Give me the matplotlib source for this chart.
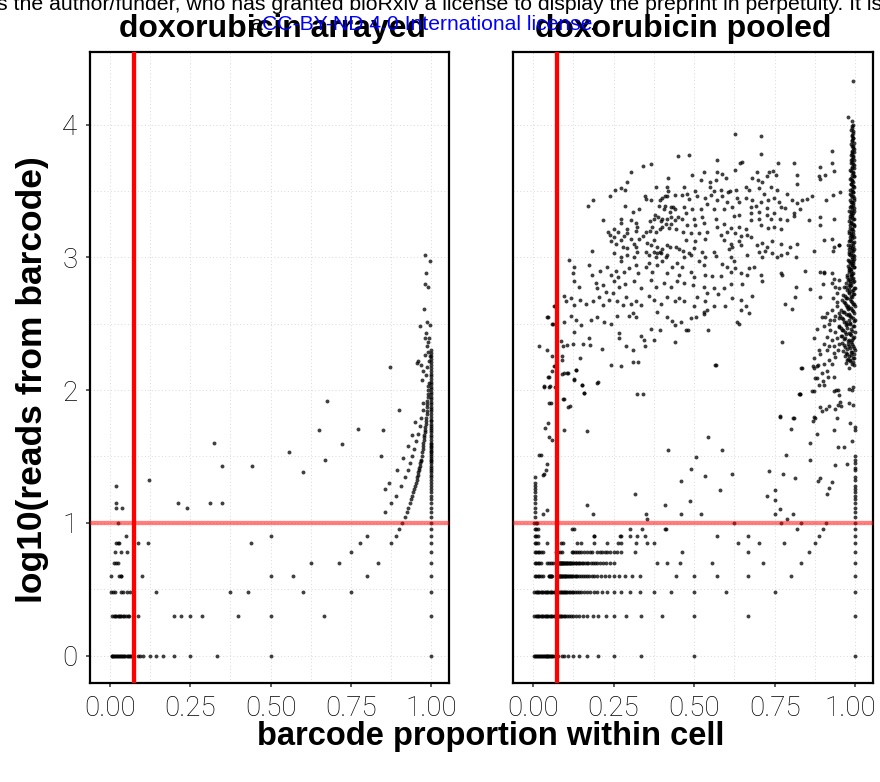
"""
doxorubicin: barcode proportion vs log10 reads, arrayed vs pooled
"""

import numpy as np
import matplotlib
matplotlib.use("Agg")
import matplotlib.pyplot as plt
from matplotlib.transforms import ScaledTranslation

# ---------------- data ----------------
# arrayed: proportion values for cells at a given read count (1..10 reads)
arr_r1 = [0.005, 0.008, 0.011, 0.014, 0.017, 0.02, 0.023, 0.026, 0.029, 0.032, 0.035, 0.038,
          0.041, 0.044, 0.048, 0.052, 0.056, 0.06, 0.064, 0.067, 0.088, 0.093, 0.104, 0.124,
          0.143, 0.166, 0.2, 0.249, 0.333, 0.5, 1.0]
arr_r2 = [0.008, 0.012, 0.016, 0.02, 0.024, 0.028, 0.032, 0.036, 0.04, 0.045, 0.05, 0.055,
          0.06, 0.088, 0.2, 0.222, 0.25, 0.286, 0.4, 0.5, 0.667, 1.0]
arr_r3 = [0.003, 0.01, 0.016, 0.036, 0.041, 0.052, 0.062, 0.143, 0.375, 0.429, 0.6, 0.75, 1.0]
arr_r4 = [0.003, 0.029, 0.033, 0.036, 0.1, 0.5, 0.571, 0.8, 1.0]
arr_r5 = [0.013, 0.019, 0.024, 0.625, 0.714, 0.833, 1.0]
arr_r6 = [0.016, 0.036, 0.052, 0.75, 1.0]
arr_r7 = [0.018, 0.024, 0.029, 0.088, 0.117, 0.438, 0.778, 0.875, 1.0]
arr_r8 = [0.049, 0.5, 0.8, 0.889, 1.0]
arr_r9 = [0.9, 1.0]
arr_r10 = [0.024, 0.909, 1.0]

# arrayed: read counts of barcodes with 0 / 1 / 2 / 3 other reads in the cell (>10 reads)
arr_single_reads = [11, 12, 13, 14, 15, 16, 17, 18, 19, 20, 21, 22, 23, 24, 25, 26, 27, 28, 29,
                    30, 31, 32, 33, 34, 35, 36, 37, 38, 39, 40, 42, 44, 46, 48, 50, 52, 54, 56,
                    58, 60, 63, 66, 69, 72, 75, 78, 81, 85, 89, 93, 97, 101, 106, 111, 116, 121,
                    127, 133, 140, 147, 155, 163, 172, 181, 190, 200]
arr_k1_reads = [11, 12, 13, 14, 15, 16, 17, 18, 19, 20, 21, 22, 23, 24, 25, 26, 27, 28, 29, 30,
                32, 34, 36, 38, 40, 42, 44, 46, 48, 50, 53, 56, 59, 62, 66, 70, 74, 78, 83, 88,
                94, 100, 107, 114]
arr_k2_reads = [12, 14, 16, 19, 22, 25, 28, 32, 36, 41, 47, 54, 62, 71, 80]
arr_k3_reads = [18, 20, 25, 31, 38, 46, 57]

# arrayed: other points (proportion, reads)
arr_misc = [(0.018, 13), (0.039, 13), (0.018, 14), (0.018, 19), (0.123, 21), (0.212, 14),
            (0.24, 13), (0.311, 14), (0.35, 14), (0.324, 40), (0.35, 27), (0.443, 27),
            (0.558, 34), (0.6, 24), (0.65, 50), (0.67, 30), (0.675, 83), (0.723, 39),
            (0.773, 51), (0.843, 32), (0.851, 50), (0.871, 149), (0.9, 71), (0.955, 160),
            (0.958, 165), (0.98, 1040), (0.995, 935), (0.983, 760), (0.98, 630), (0.99, 600),
            (0.978, 408), (0.965, 305), (0.985, 327), (0.996, 310), (0.984, 270), (0.979, 245),
            (0.994, 248), (0.968, 155), (0.98, 185), (0.99, 195), (0.995, 180), (0.985, 215),
            (0.99, 230), (0.975, 140), (0.983, 130), (0.97, 120), (0.988, 150), (0.993, 165)]

# pooled: proportion values for cells at a given read count (1..10 reads)
pool_r1 = [0.003, 0.006, 0.009, 0.012, 0.015, 0.018, 0.021, 0.024, 0.027, 0.03, 0.033, 0.036,
           0.039, 0.042, 0.045, 0.048, 0.05, 0.053, 0.056, 0.059, 0.063, 0.067, 0.071, 0.077,
           0.089, 0.097, 0.109, 0.123, 0.143, 0.169, 0.202, 0.252, 0.334, 0.5, 1.0]
pool_r2 = [0.004, 0.008, 0.012, 0.016, 0.02, 0.024, 0.028, 0.032, 0.036, 0.04, 0.044, 0.048,
           0.052, 0.056, 0.06, 0.064, 0.068, 0.072, 0.077, 0.08, 0.083, 0.087, 0.091, 0.095,
           0.1, 0.105, 0.111, 0.118, 0.125, 0.133, 0.143, 0.154, 0.167, 0.185, 0.202, 0.226,
           0.252, 0.288, 0.336, 0.401, 0.5, 0.668, 1.0]
pool_r3 = [0.004, 0.008, 0.012, 0.016, 0.02, 0.024, 0.028, 0.032, 0.036, 0.04, 0.044, 0.048,
           0.052, 0.056, 0.06, 0.064, 0.068, 0.072, 0.076, 0.08, 0.083, 0.086, 0.09, 0.094,
           0.097, 0.1, 0.103, 0.107, 0.111, 0.115, 0.12, 0.125, 0.13, 0.136, 0.143, 0.15,
           0.158, 0.167, 0.176, 0.188, 0.2, 0.214, 0.231, 0.25, 0.273, 0.3, 0.333, 0.375,
           0.429, 0.5, 0.6, 0.75, 1.0]
pool_r4 = [0.005, 0.01, 0.015, 0.02, 0.025, 0.03, 0.049, 0.051, 0.053, 0.055, 0.057, 0.06,
           0.08, 0.082, 0.083, 0.085, 0.087, 0.089, 0.091, 0.093, 0.095, 0.098, 0.1, 0.103,
           0.105, 0.108, 0.111, 0.114, 0.118, 0.121, 0.125, 0.129, 0.133, 0.138, 0.143, 0.148,
           0.154, 0.16, 0.167, 0.174, 0.182, 0.19, 0.2, 0.21, 0.222, 0.235, 0.25, 0.267, 0.286,
           0.308, 0.333, 0.444, 0.5, 0.571, 0.667, 0.8, 1.0]
pool_r5 = [0.005, 0.01, 0.015, 0.02, 0.025, 0.045, 0.05, 0.056, 0.063, 0.071, 0.08, 0.082,
           0.083, 0.085, 0.086, 0.088, 0.089, 0.091, 0.093, 0.094, 0.096, 0.098, 0.1, 0.102,
           0.104, 0.106, 0.109, 0.111, 0.114, 0.116, 0.119, 0.122, 0.125, 0.128, 0.132, 0.135,
           0.139, 0.143, 0.147, 0.152, 0.156, 0.161, 0.167, 0.172, 0.179, 0.185, 0.192, 0.2,
           0.208, 0.217, 0.227, 0.238, 0.25, 0.385, 0.417, 0.455, 0.556, 0.714, 0.833, 1.0]
pool_r6 = [0.005, 0.01, 0.015, 0.02, 0.025, 0.03, 0.071, 0.077, 0.083, 0.09, 0.12, 0.125,
           0.13, 0.136, 0.143, 0.15, 0.158, 0.167, 0.176, 0.182, 0.2, 0.207, 0.214, 0.222,
           0.231, 0.24, 0.25, 0.261, 0.273, 0.316, 0.462, 0.667, 0.857, 1.0]
pool_r7 = [0.005, 0.01, 0.015, 0.044, 0.087, 0.094, 0.136, 0.149, 0.19, 0.231, 0.264, 0.272,
           0.319, 0.353, 0.374, 0.636, 0.7, 0.778, 0.875, 1.0]
pool_r8 = [0.005, 0.01, 0.015, 0.188, 0.19, 0.269, 0.272, 0.301, 0.322, 0.348, 0.571, 0.667,
           0.889, 1.0]
pool_r9 = [0.005, 0.01, 0.015, 0.121, 0.127, 0.301, 0.339, 0.41, 0.414, 0.818, 0.9, 1.0]
pool_r10 = [0.004, 0.008, 0.012, 0.625, 0.769, 0.833, 0.909, 1.0]

# pooled: reads of cells near proportion 0 and at proportion 1 (>10 reads)
pool_low_reads = [11, 12, 13, 14, 15, 16, 17, 18, 19, 20, 22]
pool_single_reads = [11, 12, 13, 14, 15, 16, 17, 18, 19, 21, 22, 25, 26, 28, 30, 32, 50, 53]

# pooled: scattered points between 1 and 2.2 (proportion, log10 reads)
pool_mid = [(0.031, 1.07), (0.042, 1.1), (0.167, 1.135), (0.187, 1.067), (0.032, 1.36),
            (0.035, 1.37), (0.039, 1.4), (0.045, 1.44), (0.019, 1.51), (0.024, 1.51),
            (0.036, 1.715), (0.048, 1.755), (0.05, 1.65), (0.059, 1.625), (0.096, 1.7),
            (0.167, 1.69), (0.051, 1.9), (0.035, 2.025), (0.049, 2.02), (0.094, 1.93),
            (0.11, 1.87), (0.047, 2.1), (0.06, 2.14), (0.067, 2.18), (0.089, 2.12),
            (0.108, 2.13), (0.132, 2.15), (0.127, 2.076), (0.151, 2.04), (0.157, 1.98),
            (0.2, 2.05), (0.317, 1.22), (0.242, 2.19), (0.311, 2.21), (0.322, 1.97),
            (0.35, 1.07), (0.355, 1.03), (0.418, 1.55), (0.41, 1.137), (0.458, 1.315),
            (0.46, 1.07), (0.491, 1.406), (0.486, 1.167), (0.507, 1.496), (0.52, 1.07),
            (0.535, 1.353), (0.543, 1.644), (0.565, 2.19), (0.581, 1.248), (0.588, 1.55),
            (0.616, 1.37), (0.727, 1.2), (0.732, 1.39), (0.75, 1.25), (0.75, 1.17),
            (0.766, 1.107), (0.75, 1.07), (0.766, 1.805), (0.775, 1.37), (0.786, 1.51),
            (0.801, 1.705), (0.808, 1.79), (0.814, 1.336), (0.808, 1.067), (0.787, 1.03),
            (0.827, 1.97), (0.832, 2.17), (0.858, 1.6), (0.861, 1.47), (0.865, 1.99),
            (0.868, 1.77), (0.871, 1.795), (0.875, 2.09), (0.872, 2.17), (0.868, 2.18),
            (0.88, 1.67), (0.884, 2.19), (0.887, 2.04), (0.9, 2.07), (0.915, 2.1),
            (0.897, 2.13), (0.884, 1.315), (0.891, 1.336), (0.913, 1.22), (0.92, 1.26),
            (0.927, 1.31), (0.89, 1.87), (0.896, 1.84), (0.91, 1.86), (0.934, 1.7),
            (0.937, 1.436), (0.946, 1.57), (0.943, 1.79), (0.927, 2.2), (0.934, 1.99),
            (0.94, 2.0), (0.945, 2.0), (0.95, 1.96), (0.945, 1.89), (0.955, 1.88),
            (0.953, 1.91), (0.982, 2.01), (0.99, 2.0), (0.994, 2.02), (0.982, 1.9),
            (0.993, 1.89), (0.965, 1.57), (0.975, 1.44), (0.99, 1.62), (0.985, 1.75)]

# pooled: diffuse cloud of high-read cells (proportion, log10 reads)
pool_cloud = [
    (0.451, 3.76), (0.367, 3.7), (0.34, 3.69), (0.305, 3.64), (0.291, 3.57), (0.42, 3.6),
    (0.272, 3.52), (0.285, 3.51), (0.254, 3.51), (0.239, 3.46), (0.383, 3.53), (0.417, 3.53),
    (0.42, 3.5), (0.441, 3.47), (0.348, 3.46), (0.35, 3.44), (0.365, 3.43), (0.393, 3.43),
    (0.399, 3.45), (0.409, 3.46), (0.417, 3.46), (0.391, 3.39), (0.409, 3.39), (0.429, 3.38),
    (0.435, 3.38), (0.44, 3.36), (0.187, 3.43), (0.171, 3.39), (0.286, 3.39), (0.329, 3.36),
    (0.309, 3.34), (0.407, 3.36), (0.425, 3.34), (0.379, 3.32), (0.388, 3.3), (0.401, 3.29),
    (0.417, 3.29), (0.427, 3.3), (0.44, 3.28), (0.45, 3.3), (0.272, 3.29), (0.303, 3.28),
    (0.319, 3.26), (0.322, 3.23), (0.363, 3.27), (0.376, 3.29), (0.396, 3.27), (0.412, 3.25),
    (0.427, 3.25), (0.218, 3.28), (0.234, 3.19), (0.25, 3.21), (0.264, 3.19), (0.272, 3.26),
    (0.293, 3.21), (0.319, 3.2), (0.329, 3.14), (0.352, 3.19), (0.363, 3.2), (0.37, 3.23),
    (0.381, 3.19), (0.394, 3.21), (0.401, 3.23), (0.422, 3.22), (0.443, 3.21), (0.239, 3.17),
    (0.252, 3.15), (0.272, 3.13), (0.283, 3.16), (0.293, 3.18), (0.305, 3.14), (0.314, 3.1),
    (0.34, 3.16), (0.353, 3.11), (0.365, 3.09), (0.376, 3.13), (0.386, 3.08), (0.394, 3.04),
    (0.401, 3.06), (0.417, 3.09), (0.425, 3.08), (0.443, 3.08), (0.453, 3.06), (0.241, 3.12),
    (0.257, 3.1), (0.278, 3.08), (0.293, 3.07), (0.319, 3.08), (0.324, 3.04), (0.35, 3.04),
    (0.374, 3.04), (0.386, 3.03), (0.396, 3.03), (0.417, 3.02), (0.182, 3.05), (0.252, 3.03),
    (0.272, 3.0), (0.291, 3.02), (0.314, 3.0), (0.36, 3.02), (0.381, 3.0), (0.412, 3.0),
    (0.112, 2.98),
    (0.626, 3.93), (0.709, 3.91), (0.706, 3.78), (0.928, 3.8), (0.484, 3.77), (0.572, 3.73),
    (0.647, 3.72), (0.642, 3.71), (0.759, 3.71), (0.81, 3.71), (0.626, 3.66), (0.89, 3.68),
    (0.928, 3.71), (0.935, 3.65), (0.494, 3.62), (0.532, 3.64), (0.572, 3.64), (0.587, 3.63),
    (0.6, 3.6), (0.694, 3.64), (0.68, 3.6), (0.732, 3.64), (0.745, 3.65), (0.754, 3.62),
    (0.82, 3.62), (0.886, 3.61), (0.892, 3.59), (0.907, 3.62), (0.52, 3.58), (0.549, 3.57),
    (0.569, 3.58), (0.698, 3.58), (0.711, 3.57), (0.727, 3.61), (0.47, 3.53), (0.504, 3.5),
    (0.477, 3.48), (0.549, 3.53), (0.561, 3.5), (0.582, 3.51), (0.606, 3.49), (0.61, 3.5),
    (0.63, 3.51), (0.662, 3.53), (0.67, 3.51), (0.701, 3.52), (0.716, 3.48), (0.737, 3.53),
    (0.757, 3.51), (0.818, 3.55), (0.463, 3.47), (0.484, 3.44), (0.51, 3.46), (0.535, 3.45),
    (0.551, 3.47), (0.572, 3.43), (0.587, 3.46), (0.603, 3.42), (0.634, 3.45), (0.639, 3.42),
    (0.618, 3.38), (0.66, 3.45), (0.68, 3.43), (0.691, 3.39), (0.706, 3.42), (0.728, 3.43),
    (0.747, 3.45), (0.762, 3.42), (0.768, 3.38), (0.789, 3.48), (0.804, 3.43), (0.82, 3.41),
    (0.835, 3.43), (0.851, 3.44), (0.866, 3.46), (0.908, 3.43), (0.931, 3.47), (0.469, 3.38),
    (0.494, 3.36), (0.52, 3.36), (0.541, 3.4), (0.561, 3.36), (0.592, 3.36), (0.675, 3.38),
    (0.677, 3.33), (0.701, 3.34), (0.727, 3.37), (0.747, 3.33), (0.783, 3.37), (0.809, 3.33),
    (0.83, 3.36), (0.463, 3.29), (0.474, 3.33), (0.5, 3.29), (0.525, 3.3), (0.567, 3.29),
    (0.623, 3.31), (0.639, 3.32), (0.675, 3.28), (0.701, 3.29), (0.725, 3.32), (0.737, 3.29),
    (0.766, 3.29), (0.787, 3.28), (0.809, 3.31), (0.855, 3.28), (0.89, 3.3), (0.892, 3.24),
    (0.933, 3.29), (0.479, 3.24), (0.504, 3.24), (0.53, 3.26), (0.572, 3.23), (0.592, 3.25),
    (0.613, 3.22), (0.639, 3.23), (0.66, 3.21), (0.706, 3.24), (0.728, 3.22), (0.747, 3.23),
    (0.768, 3.21), (0.467, 3.19), (0.489, 3.18), (0.515, 3.18), (0.541, 3.19), (0.582, 3.17),
    (0.603, 3.19), (0.628, 3.18), (0.644, 3.16), (0.665, 3.17), (0.675, 3.15), (0.474, 3.13),
    (0.504, 3.12), (0.535, 3.14), (0.592, 3.13), (0.613, 3.1), (0.639, 3.12), (0.696, 3.09),
    (0.711, 3.11), (0.727, 3.08), (0.742, 3.12), (0.768, 3.1), (0.799, 3.08), (0.82, 3.1),
    (0.467, 3.05), (0.484, 3.03), (0.5, 3.07), (0.525, 3.04), (0.561, 3.04), (0.608, 3.06),
    (0.618, 3.08), (0.644, 3.09), (0.701, 3.04), (0.721, 3.05), (0.742, 3.03), (0.768, 3.02),
    (0.789, 3.03), (0.469, 3.0), (0.489, 3.02), (0.535, 3.0), (0.567, 3.01), (0.613, 3.0),
    (0.665, 3.02), (0.711, 3.0), (0.757, 3.0), (0.815, 3.0), (0.871, 3.05), (0.933, 3.08),
    (0.948, 3.09),
    (0.123, 2.88), (0.128, 2.93), (0.174, 2.94), (0.182, 2.87), (0.208, 2.9), (0.229, 2.93),
    (0.241, 2.87), (0.257, 2.9), (0.264, 2.85), (0.272, 2.97), (0.283, 2.89), (0.298, 2.92),
    (0.319, 2.94), (0.326, 2.88), (0.35, 2.93), (0.36, 2.96), (0.37, 2.89), (0.386, 2.94),
    (0.401, 2.97), (0.417, 2.88), (0.432, 2.93), (0.448, 2.96), (0.453, 2.87),
    (0.128, 2.82), (0.143, 2.78), (0.195, 2.81), (0.2, 2.77), (0.216, 2.79), (0.226, 2.74),
    (0.252, 2.82), (0.267, 2.78), (0.285, 2.8), (0.314, 2.82), (0.334, 2.77), (0.365, 2.83),
    (0.381, 2.78), (0.407, 2.81), (0.427, 2.78), (0.448, 2.82),
    (0.066, 2.63), (0.095, 2.71), (0.102, 2.67), (0.118, 2.69), (0.128, 2.64), (0.147, 2.68),
    (0.164, 2.65), (0.185, 2.67), (0.205, 2.7), (0.216, 2.64), (0.236, 2.68), (0.247, 2.73),
    (0.262, 2.67), (0.278, 2.64), (0.288, 2.7), (0.303, 2.65), (0.319, 2.67), (0.334, 2.64),
    (0.36, 2.71), (0.376, 2.68), (0.396, 2.65), (0.417, 2.7), (0.44, 2.67), (0.453, 2.69),
    (0.045, 2.55), (0.061, 2.5), (0.095, 2.51), (0.118, 2.56), (0.133, 2.53), (0.149, 2.49),
    (0.18, 2.53), (0.2, 2.55), (0.221, 2.51), (0.241, 2.5), (0.262, 2.56), (0.298, 2.56),
    (0.319, 2.55), (0.309, 2.58), (0.386, 2.59), (0.417, 2.55), (0.432, 2.52), (0.44, 2.49),
    (0.087, 2.37), (0.092, 2.33), (0.107, 2.34), (0.123, 2.35), (0.128, 2.44), (0.154, 2.35),
    (0.174, 2.39), (0.177, 2.34), (0.213, 2.31), (0.267, 2.43), (0.267, 2.39), (0.288, 2.33),
    (0.309, 2.3), (0.334, 2.41), (0.344, 2.38), (0.347, 2.33), (0.376, 2.38), (0.365, 2.46),
    (0.394, 2.45), (0.44, 2.36),
    (0.019, 2.33), (0.043, 2.3), (0.059, 2.26), (0.066, 2.18), (0.05, 2.1), (0.033, 2.03),
    (0.054, 2.03), (0.069, 2.02), (0.056, 1.9), (0.089, 2.26), (0.089, 2.23), (0.095, 2.13),
    (0.107, 2.13), (0.133, 2.15), (0.128, 2.08), (0.147, 2.24), (0.152, 2.04), (0.159, 1.98),
    (0.202, 2.06), (0.272, 2.18), (0.326, 2.21), (0.34, 1.97), (0.097, 1.93), (0.114, 1.88),
    (0.047, 2.55), (0.059, 2.5), (0.067, 2.63),
    (0.463, 2.93), (0.489, 2.89), (0.5, 2.85), (0.515, 2.97), (0.53, 2.94), (0.535, 2.87),
    (0.556, 2.86), (0.582, 2.86), (0.587, 2.95), (0.603, 2.93), (0.613, 2.89), (0.623, 2.97),
    (0.628, 2.92), (0.644, 2.88), (0.665, 2.87), (0.67, 2.92), (0.685, 2.93), (0.706, 2.87),
    (0.711, 2.82), (0.469, 2.81), (0.497, 2.79), (0.53, 2.78), (0.541, 2.73), (0.561, 2.77),
    (0.574, 2.72), (0.592, 2.77), (0.613, 2.8), (0.649, 2.8), (0.68, 2.71), (0.768, 2.88),
    (0.773, 2.87), (0.845, 2.9), (0.892, 2.89), (0.902, 2.88), (0.469, 2.67), (0.5, 2.63),
    (0.508, 2.7), (0.535, 2.67), (0.541, 2.6), (0.561, 2.63), (0.597, 2.63), (0.618, 2.69),
    (0.644, 2.68), (0.644, 2.6), (0.662, 2.63), (0.67, 2.58), (0.46, 2.51), (0.489, 2.54),
    (0.505, 2.55), (0.53, 2.57), (0.532, 2.59), (0.634, 2.51), (0.639, 2.5), (0.474, 2.45),
    (0.481, 2.45), (0.544, 2.45), (0.817, 2.78), (0.814, 2.7), (0.783, 2.65), (0.804, 2.61),
    (0.861, 2.76), (0.9, 2.8), (0.567, 2.19), (0.773, 2.36), (0.835, 2.17), (0.827, 1.97),
    (0.881, 2.46), (0.871, 2.39), (0.886, 2.3), (0.892, 2.27), (0.912, 2.3), (0.933, 2.28),
    (0.871, 2.24), (0.881, 2.18), (0.902, 2.2), (0.918, 2.23), (0.938, 2.25), (0.912, 2.14),
    (0.881, 2.09), (0.933, 2.1), (0.904, 2.04), (0.871, 1.99), (0.917, 1.88), (0.936, 1.86),
    (0.876, 1.79), (0.809, 1.79), (0.766, 1.8), (0.825, 1.97),
    (0.897, 2.55), (0.912, 2.58), (0.928, 2.6), (0.943, 2.63), (0.918, 2.5), (0.933, 2.53),
    (0.948, 2.54), (0.902, 2.48), (0.923, 2.45), (0.938, 2.44), (0.951, 2.48), (0.912, 2.4),
    (0.928, 2.38), (0.943, 2.39), (0.951, 2.35), (0.902, 2.35), (0.918, 2.33), (0.935, 2.33),
    (0.945, 2.3), (0.923, 2.53), (0.938, 2.56), (0.951, 2.58), (0.943, 2.73), (0.948, 2.83),
    (0.938, 2.78), (0.931, 2.69), (0.943, 2.66), (0.951, 2.77), (0.935, 2.84), (0.928, 2.88),
    (0.954, 3.49), (0.902, 3.13), (0.928, 3.14), (0.948, 3.09), (0.931, 3.05), (0.902, 2.89),
    (0.928, 2.81), (0.892, 2.7), (0.907, 2.55)]

# pooled: dense spike of high-read single-barcode cells near proportion 1
pool_spike = [
    (0.993, 4.33), (0.976, 4.06), (0.99, 4.03), (0.993, 4.0), (0.99, 3.97), (0.994, 3.95),
    (0.99, 3.92), (0.993, 3.9), (0.991, 3.88), (0.995, 3.86), (0.989, 3.84), (0.993, 3.82),
    (0.99, 3.8), (0.996, 3.79), (0.988, 3.77), (0.993, 3.76), (0.99, 3.74), (0.996, 3.73),
    (0.986, 3.71), (0.992, 3.7), (0.989, 3.68), (0.995, 3.67), (0.987, 3.65), (0.993, 3.64),
    (0.99, 3.62), (0.996, 3.61), (0.985, 3.59), (0.991, 3.58), (0.994, 3.57), (0.988, 3.55),
    (0.992, 3.54), (0.997, 3.53), (0.984, 3.51), (0.99, 3.5), (0.994, 3.49), (0.987, 3.47),
    (0.992, 3.46), (0.996, 3.45), (0.983, 3.43), (0.989, 3.42), (0.994, 3.41), (0.986, 3.39),
    (0.991, 3.38), (0.997, 3.37), (0.982, 3.35), (0.988, 3.34), (0.993, 3.33), (0.985, 3.31),
    (0.99, 3.3), (0.996, 3.29), (0.981, 3.27), (0.987, 3.26), (0.992, 3.25), (0.997, 3.24),
    (0.984, 3.22), (0.989, 3.21), (0.994, 3.2), (0.98, 3.18), (0.986, 3.17), (0.991, 3.16),
    (0.996, 3.15), (0.983, 3.13), (0.988, 3.12), (0.993, 3.11), (0.978, 3.09), (0.985, 3.08),
    (0.99, 3.07), (0.995, 3.06), (0.981, 3.04), (0.987, 3.03), (0.992, 3.02), (0.997, 3.01),
    (0.989, 2.99), (0.976, 2.98), (0.994, 2.97), (0.983, 2.96), (0.991, 2.94), (0.996, 2.93),
    (0.979, 2.92), (0.986, 2.91), (0.981, 2.89), (0.993, 2.88), (0.973, 2.87), (0.988, 2.86),
    (0.99, 2.84), (0.977, 2.83), (0.997, 2.82), (0.984, 2.81), (0.986, 2.79), (0.97, 2.78),
    (0.998, 2.77), (0.979, 2.76), (0.992, 2.75), (0.982, 2.73), (0.995, 2.72), (0.968, 2.71),
    (0.989, 2.7), (0.975, 2.69), (0.987, 2.67), (0.965, 2.66), (0.993, 2.65), (0.972, 2.64),
    (0.999, 2.63), (0.98, 2.62), (0.977, 2.61), (0.991, 2.6), (0.962, 2.59), (0.997, 2.58),
    (0.97, 2.57), (0.984, 2.56), (0.988, 2.55), (0.958, 2.54), (0.981, 2.53), (0.995, 2.52),
    (0.966, 2.51), (0.974, 2.5), (0.971, 2.49), (0.993, 2.48), (0.955, 2.47), (0.986, 2.46),
    (0.963, 2.45), (0.999, 2.44), (0.979, 2.43), (0.984, 2.42), (0.96, 2.41), (0.997, 2.4),
    (0.968, 2.39), (0.991, 2.38), (0.976, 2.37), (0.99, 2.35), (0.965, 2.34), (0.982, 2.33),
    (0.996, 2.32), (0.974, 2.31), (0.988, 2.29), (0.97, 2.28), (0.995, 2.27), (0.98, 2.26),
    (0.993, 2.24), (0.975, 2.23), (0.985, 2.22), (0.99, 2.2), (0.997, 2.19), (0.98, 2.17)]

# pooled: more spike cells, lying between the ones above
pool_spike_b = [
    (0.991, 3.985), (0.988, 3.955), (0.992, 3.935), (0.989, 3.915), (0.994, 3.895),
    (0.99, 3.875), (0.987, 3.855), (0.992, 3.835), (0.995, 3.815), (0.989, 3.795),
    (0.991, 3.775), (0.994, 3.755), (0.988, 3.735), (0.991, 3.715), (0.995, 3.695),
    (0.99, 3.675), (0.985, 3.655), (0.992, 3.635), (0.996, 3.615), (0.988, 3.595),
    (0.99, 3.575), (0.986, 3.555), (0.994, 3.535), (0.989, 3.515), (0.993, 3.495),
    (0.985, 3.475), (0.99, 3.455), (0.995, 3.435), (0.987, 3.415), (0.992, 3.395),
    (0.984, 3.375), (0.989, 3.355), (0.995, 3.345), (0.986, 3.325), (0.991, 3.315),
    (0.983, 3.295), (0.993, 3.285), (0.988, 3.265), (0.984, 3.245), (0.995, 3.235),
    (0.99, 3.215), (0.982, 3.195), (0.987, 3.185), (0.993, 3.175), (0.985, 3.155),
    (0.99, 3.145), (0.98, 3.125), (0.996, 3.115), (0.986, 3.095), (0.992, 3.085),
    (0.982, 3.065), (0.989, 3.055), (0.994, 3.045), (0.979, 3.025), (0.985, 3.015),
    (0.99, 3.005), (0.996, 2.985), (0.981, 2.975), (0.987, 2.965), (0.992, 2.955),
    (0.989, 2.945), (0.976, 2.935), (0.995, 2.925), (0.983, 2.915), (0.979, 2.905),
    (0.986, 2.895), (0.991, 2.875), (0.988, 2.865), (0.974, 2.855), (0.994, 2.845),
    (0.982, 2.835), (0.985, 2.825), (0.992, 2.815), (0.972, 2.805), (0.979, 2.795),
    (0.983, 2.785), (0.966, 2.775), (0.995, 2.765), (0.975, 2.755), (0.989, 2.745),
    (0.979, 2.735), (0.993, 2.725), (0.963, 2.715), (0.986, 2.705), (0.971, 2.695),
    (0.984, 2.685), (0.96, 2.675), (0.99, 2.665), (0.968, 2.655), (0.996, 2.645),
    (0.976, 2.635), (0.973, 2.625), (0.988, 2.615), (0.957, 2.605), (0.994, 2.595),
    (0.965, 2.585), (0.981, 2.575), (0.978, 2.565), (0.953, 2.555), (0.992, 2.545),
    (0.962, 2.535), (0.998, 2.525), (0.97, 2.515), (0.985, 2.505), (0.983, 2.495),
    (0.996, 2.485), (0.95, 2.475), (0.975, 2.465), (0.959, 2.455), (0.99, 2.445),
    (0.967, 2.435), (0.972, 2.425), (0.988, 2.415), (0.955, 2.405), (0.994, 2.395),
    (0.964, 2.385), (0.98, 2.375), (0.986, 2.365), (0.958, 2.355), (0.977, 2.345),
    (0.993, 2.335), (0.968, 2.325), (0.983, 2.315), (0.998, 2.305), (0.962, 2.295),
    (0.991, 2.285), (0.973, 2.275), (0.988, 2.265), (0.967, 2.255), (0.996, 2.245),
    (0.978, 2.235), (0.984, 2.225), (0.994, 2.215), (0.972, 2.205)]

x_tick_vals = [0.0, 0.25, 0.5, 0.75, 1.0]
x_tick_text = ["0.00", "0.25", "0.50", "0.75", "1.00"]
y_tick_vals = [0, 1, 2, 3, 4]
cutoff_prop = 0.075
cutoff_log_reads = 1.0

W, H = 880, 782
TICK_FONT = ["Roboto", "DejaVu Sans"]
BOLD_FONT = ["Liberation Sans", "DejaVu Sans"]


def rows_xy(rows):
    """(reads, proportions) rows -> x, y lists"""
    xs, ys = [], []
    for reads, props in rows:
        xs += list(props)
        ys += [np.log10(reads)] * len(props)
    return xs, ys


def curve_xy(reads_list, other):
    """reads of a barcode with `other` reads from other barcodes in the cell"""
    r = np.array(reads_list, dtype=float)
    return list(r / (r + other)), list(np.log10(r))


def arrayed_points():
    rows = [(1, arr_r1), (2, arr_r2), (3, arr_r3), (4, arr_r4), (5, arr_r5),
            (6, arr_r6), (7, arr_r7), (8, arr_r8), (9, arr_r9), (10, arr_r10)]
    x, y = rows_xy(rows)
    for reads, k in [(arr_single_reads, 0), (arr_k1_reads, 1), (arr_k2_reads, 2),
                     (arr_k3_reads, 3)]:
        cx, cy = curve_xy(reads, k)
        x += cx
        y += cy
    x += [p for p, r in arr_misc]
    y += [np.log10(r) for p, r in arr_misc]
    return np.array(x), np.array(y)


def pooled_points():
    rows = [(1, pool_r1), (2, pool_r2), (3, pool_r3), (4, pool_r4), (5, pool_r5),
            (6, pool_r6), (7, pool_r7), (8, pool_r8), (9, pool_r9), (10, pool_r10)]
    x, y = rows_xy(rows)
    x += [0.005] * len(pool_low_reads)
    y += list(np.log10(pool_low_reads))
    x += [1.0] * len(pool_single_reads)
    y += list(np.log10(pool_single_reads))
    for pts in (pool_mid, pool_cloud, pool_spike, pool_spike_b):
        x += [p[0] for p in pts]
        y += [p[1] for p in pts]
    return np.array(x), np.array(y)


def style_axis(ax, show_y):
    ax.set_xlim(-0.062, 1.055)
    ax.set_ylim(-0.206, 4.546)
    ax.set_xticks(x_tick_vals)
    ax.set_xticklabels(x_tick_text)
    ax.set_xticks([0.125, 0.375, 0.625, 0.875], minor=True)
    ax.set_yticks(y_tick_vals)
    ax.set_yticks([0.5, 1.5, 2.5, 3.5], minor=True)
    ax.grid(which="both", color="#d9d9d9", linestyle=(0, (1, 2.5)), linewidth=0.7, zorder=0)
    ax.set_axisbelow(True)
    for sp in ax.spines.values():
        sp.set_linewidth(1.6)
        sp.set_color("black")
    ax.tick_params(which="major", direction="out", length=3, width=1.1, color="#333333",
                   labelsize=20, pad=6)
    ax.tick_params(which="minor", length=0)
    for lab in ax.get_xticklabels() + ax.get_yticklabels():
        lab.set_family(TICK_FONT)
        lab.set_fontweight("light")
    if not show_y:
        ax.tick_params(axis="y", left=False, labelleft=False)


def draw_panel(ax, x, y, show_y):
    ax.scatter(x, y, s=8, c="black", alpha=0.75, linewidths=0, zorder=2)
    ax.axvline(cutoff_prop, color="red", linewidth=3.1, zorder=3)
    ax.axhline(cutoff_log_reads, color="red", alpha=0.5, linewidth=3.1, zorder=3)
    style_axis(ax, show_y)


def main():
    fig = plt.figure(figsize=(W / 100, H / 100), dpi=100)
    ax1 = fig.add_axes([90 / W, 1 - 683 / H, 359 / W, 631 / H])
    ax2 = fig.add_axes([513 / W, 1 - 683 / H, 360 / W, 631 / H])

    ax_x, ax_y = arrayed_points()
    draw_panel(ax1, ax_x, ax_y, True)
    po_x, po_y = pooled_points()
    draw_panel(ax2, po_x, po_y, False)

    # last label of the right panel sits a little left, as in the original
    last = ax2.get_xticklabels()[-1]
    last.set_transform(last.get_transform() + ScaledTranslation(-5 / 100, 0, fig.dpi_scale_trans))

    # titles and axis labels
    fig.text(272 / W, 1 - 37 / H, "doxorubicin arrayed", ha="center", va="baseline",
             fontsize=23, fontweight="bold", family=BOLD_FONT)
    fig.text(683 / W, 1 - 37 / H, "doxorubicin pooled", ha="center", va="baseline",
             fontsize=23, fontweight="bold", family=BOLD_FONT)
    fig.text(33 / W, 1 - 380 / H, "log10(reads from barcode)", rotation=90, ha="center",
             va="center", fontsize=25.5, fontweight="bold", family=BOLD_FONT)
    fig.text(491 / W, 1 - 736 / H, "barcode proportion within cell", ha="center",
             va="center", fontsize=23.5, fontweight="bold", family=BOLD_FONT)

    # preprint watermark lines (top line is cut by the page edge)
    fig.text(-3 / W, 1 - 10 / H,
             "s the author/funder, who has granted bioRxiv a license to display the preprint "
             "in perpetuity. It is",
             ha="left", va="baseline", fontsize=15.3, family=["Liberation Sans"])
    fig.text(262 / W, 1 - 30 / H, "a", ha="right", va="baseline", fontsize=15.2,
             family=["Liberation Sans"], zorder=5)
    fig.text(262 / W, 1 - 30 / H, "CC-BY-ND 4.0 International license", ha="left",
             va="baseline", fontsize=15.2, color="blue", family=["Liberation Sans"], zorder=5)
    fig.text(589 / W, 1 - 30 / H, ".", ha="left", va="baseline", fontsize=15.2,
             family=["Liberation Sans"], zorder=5)

    fig.savefig("out.png", dpi=100)


if __name__ == "__main__":
    main()
